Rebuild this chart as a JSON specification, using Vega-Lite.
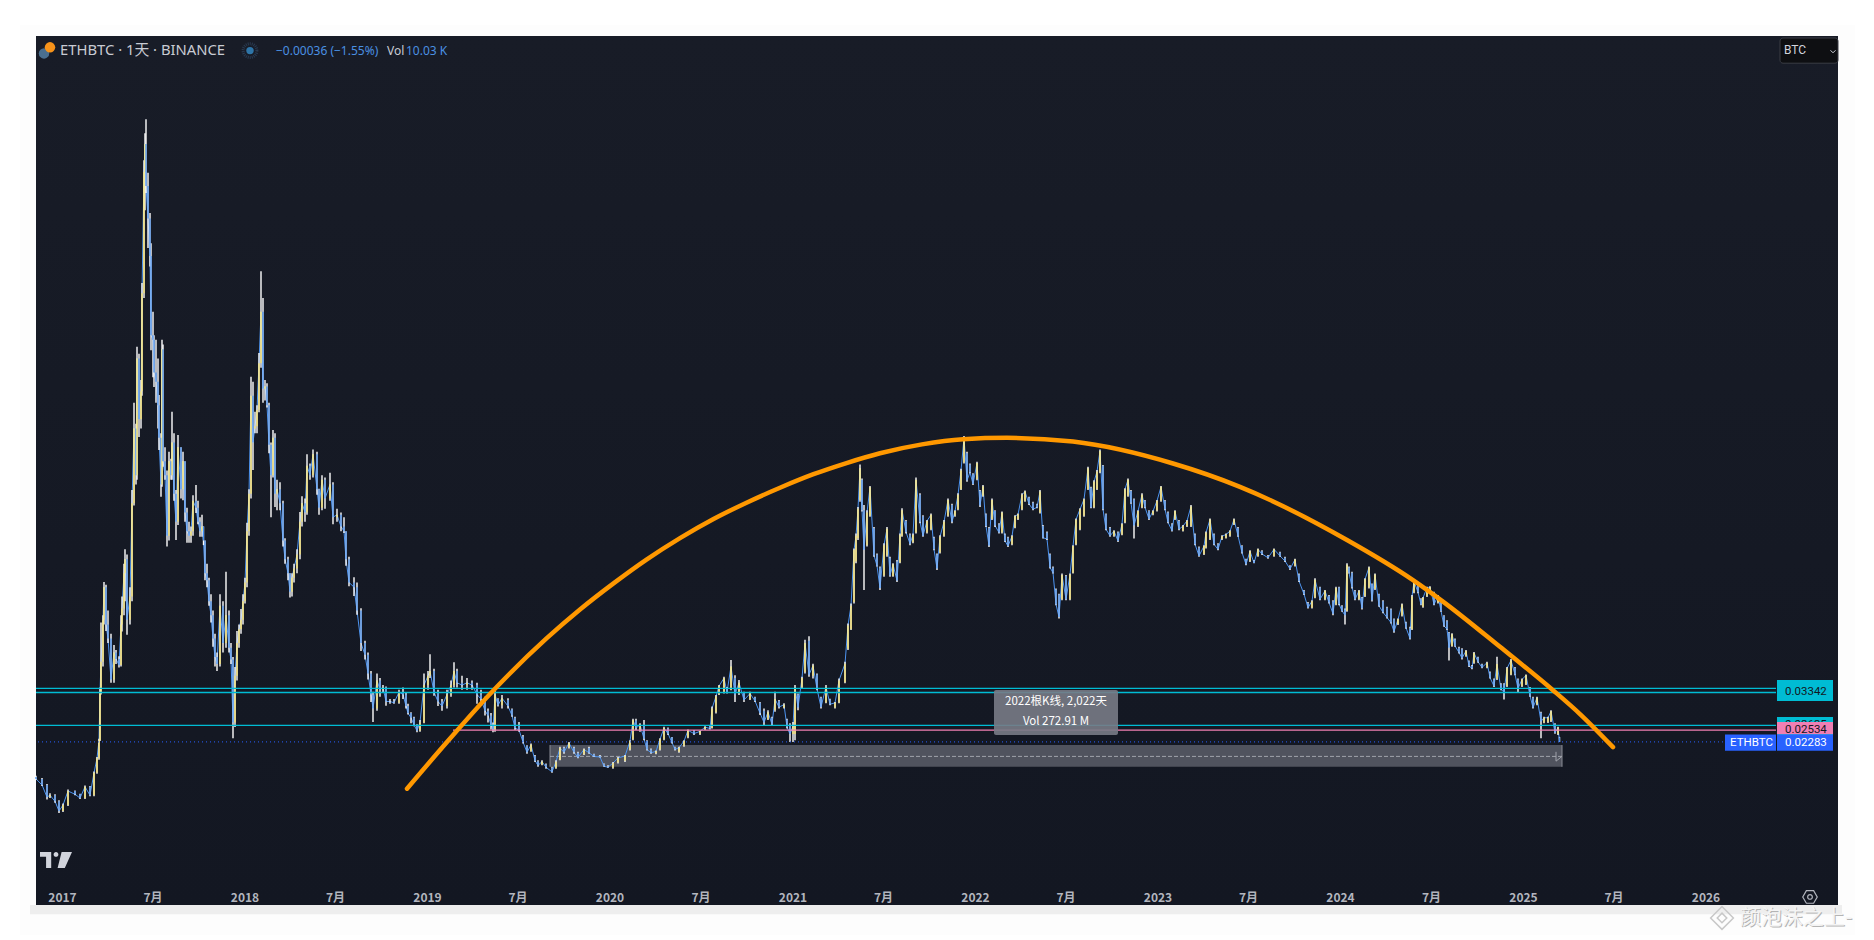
{
"$schema":"https://vega.github.io/schema/vega-lite/v6.json",
"description":"ETHBTC daily chart with rounded top arc",
"width":1802,"height":869,"autosize":{"type":"none"},
"padding":{"left":36,"top":36,"right":36,"bottom":35},
"background":"#ffffff",
"view":{"fill":{"gradient":"linear","x1":0,"y1":0,"x2":0,"y2":1,"stops":[{"offset":0,"color":"#181c27"},{"offset":1,"color":"#131722"}]},"stroke":null},
"datasets":{
"bands":[{"d":-84,"d2":-52,"v":0.1765,"v2":-0.0186},{"d":3552,"d2":3586,"v":0.1765,"v2":-0.0186},{"d":-52,"d2":3552,"v":0.1765,"v2":0.17413},{"d":-52,"d2":3552,"v":-0.01213,"v2":-0.0186}],
"edge":[{"d":-64,"d2":3560,"v":-0.01213,"v2":-0.0141}],
"cyan":[{"d":-52,"d2":3428,"v":0.0343},{"d":-52,"d2":3428,"v":0.03342},{"d":-52,"d2":3428,"v":0.02636}],
"pink":[{"d":782,"d2":3428,"v":0.02534}],
"last":[{"d":-48,"d2":3326,"v":0.02283}],
"range":[{"d":976,"d2":3000,"v":0.02215,"v2":0.01749}],
"rangeEnds":[{"d":976,"v":0.02215,"v2":0.01749},{"d":3000,"v":0.02215,"v2":0.01749}],
"rangeMid":[{"d":976,"d2":3000,"v":0.01972}],
"rangeArrow":[{"d":2988,"v":0.0207},{"d":3000,"v":0.01972},{"d":2988,"v":0.0187}],
"arc":[{"d":690,"v":0.0128},{"d":770,"v":0.0228},{"d":849,"v":0.0323},{"d":969,"v":0.045},{"d":1036,"v":0.0512},{"d":1103,"v":0.0568},{"d":1169,"v":0.0619},{"d":1236,"v":0.0665},{"d":1303,"v":0.0706},{"d":1369,"v":0.0741},{"d":1436,"v":0.0773},{"d":1503,"v":0.0802},{"d":1569,"v":0.0826},{"d":1636,"v":0.0847},{"d":1720,"v":0.0866},{"d":1802,"v":0.0877},{"d":1890,"v":0.088},{"d":2022,"v":0.0872},{"d":2222,"v":0.0825},{"d":2356,"v":0.0775},{"d":2570,"v":0.0661},{"d":2702,"v":0.0575},{"d":2762,"v":0.0529},{"d":2876,"v":0.0432},{"d":2982,"v":0.0339},{"d":3036,"v":0.0288},{"d":3102,"v":0.0217}],
"boxCyan":[{"d":3430,"d2":3542,"v":0.03608,"v2":0.03157},{"d":3430,"d2":3542,"v":0.02815,"v2":0.024}],
"boxPink":[{"d":3430,"d2":3542,"v":0.0271,"v2":0.02445}],
"boxBlue":[{"d":3326,"d2":3428,"v":0.02444,"v2":0.02092},{"d":3430,"d2":3542,"v":0.02444,"v2":0.02092}],
"darkTags":[{"d":3446,"v":0.03342,"label":"0.03342"},{"d":3446,"v":0.02636,"label":"0.02635"}],
"pinkTag":[{"d":3446,"v":0.02534,"label":"0.02534"}],
"blueTags":[{"d":3336,"v":0.02268,"label":"ETHBTC"},{"d":3446,"v":0.02268,"label":"0.02283"}],
"note":[{"d":1864,"d2":2112,"v":0.03393,"v2":0.02429}],
"noteText":[{"d":1988,"v":0.03143,"label":"2022根K线, 2,022天"},{"d":1988,"v":0.02714,"label":"Vol 272.91 M"}],
"head":[{"d":-4,"v":0.171,"label":"ETHBTC · 1天 · BINANCE"}],
"headBlue":[{"d":428,"v":0.171,"label":"−0.00036 (−1.55%)"},{"d":688,"v":0.171,"label":"10.03 K"}],
"headVol":[{"d":650,"v":0.171,"label":"Vol"}],
"coinBtc":[{"d":-24,"v":0.1717}],
"coinEth":[{"d":-36,"v":0.1704}],
"status":[{"d":376,"v":0.171}],
"tvLogo":[{"d":-12,"v":-0.0025}],
"btcBox":[{"d":3436,"d2":3552,"v":0.1737,"v2":0.1683}],
"btcText":[{"d":3444,"v":0.1711,"label":"BTC"}],
"chevron":[{"d":3542,"v":0.1708}],
"gear":[{"d":3496,"v":-0.0104}],
"mark":[{"d":3320,"v":-0.0149}],
"markText":[{"d":3356,"v":-0.0149,"label":"颜泡沫之上-"}],
"bars":[
{"d":-52,"o":0.0153,"h":0.0156,"l":0.0147,"c":0.0149},{"d":-40,"o":0.0149,"h":0.0151,"l":0.0134,"c":0.0136},{"d":-30,"o":0.0136,"h":0.0138,"l":0.0105,"c":0.011},{"d":-24,"o":0.011,"h":0.0118,"l":0.0108,"c":0.0114},{"d":-14,"o":0.0114,"h":0.0116,"l":0.0098,"c":0.0101},{"d":-6,"o":0.0101,"h":0.0103,"l":0.0076,"c":0.008},{"d":2,"o":0.008,"h":0.0096,"l":0.0078,"c":0.0093},{"d":12,"o":0.0093,"h":0.0126,"l":0.0091,"c":0.0123},{"d":26,"o":0.0123,"h":0.0124,"l":0.0114,"c":0.0116},{"d":36,"o":0.0116,"h":0.0117,"l":0.0106,"c":0.0108},{"d":46,"o":0.0108,"h":0.0135,"l":0.0106,"c":0.0132},{"d":56,"o":0.0132,"h":0.0134,"l":0.0112,"c":0.0114},{"d":64,"o":0.0114,"h":0.0165,"l":0.0112,"c":0.0162},{"d":70,"o":0.0162,"h":0.0196,"l":0.016,"c":0.0193},{"d":74,"o":0.0193,"h":0.0235,"l":0.019,"c":0.0232},{"d":76,"o":0.0232,"h":0.0345,"l":0.023,"c":0.0336},{"d":78,"o":0.0336,"h":0.0484,"l":0.033,"c":0.04},{"d":82,"o":0.04,"h":0.05,"l":0.039,"c":0.049},{"d":84,"o":0.049,"h":0.0571,"l":0.048,"c":0.056},{"d":88,"o":0.056,"h":0.0565,"l":0.0466,"c":0.048},{"d":92,"o":0.048,"h":0.051,"l":0.044,"c":0.045},{"d":98,"o":0.045,"h":0.046,"l":0.0355,"c":0.0362},{"d":104,"o":0.0362,"h":0.0436,"l":0.0355,"c":0.042},{"d":108,"o":0.042,"h":0.0425,"l":0.0395,"c":0.0406},{"d":114,"o":0.0406,"h":0.0412,"l":0.0388,"c":0.0393},{"d":118,"o":0.0393,"h":0.05,"l":0.039,"c":0.048},{"d":120,"o":0.048,"h":0.054,"l":0.0465,"c":0.0514},{"d":124,"o":0.0514,"h":0.061,"l":0.05,"c":0.059},{"d":126,"o":0.059,"h":0.0641,"l":0.053,"c":0.062},{"d":130,"o":0.062,"h":0.063,"l":0.0458,"c":0.049},{"d":136,"o":0.049,"h":0.056,"l":0.048,"c":0.054},{"d":140,"o":0.054,"h":0.0768,"l":0.053,"c":0.074},{"d":144,"o":0.074,"h":0.0955,"l":0.0735,"c":0.09},{"d":148,"o":0.09,"h":0.091,"l":0.078,"c":0.08},{"d":150,"o":0.08,"h":0.1075,"l":0.079,"c":0.105},{"d":154,"o":0.105,"h":0.106,"l":0.0882,"c":0.092},{"d":158,"o":0.092,"h":0.1004,"l":0.09,"c":0.098},{"d":160,"o":0.098,"h":0.1212,"l":0.097,"c":0.119},{"d":164,"o":0.119,"h":0.1475,"l":0.118,"c":0.145},{"d":166,"o":0.145,"h":0.1533,"l":0.1368,"c":0.151},{"d":168,"o":0.151,"h":0.1563,"l":0.1405,"c":0.142},{"d":172,"o":0.142,"h":0.1448,"l":0.1287,"c":0.135},{"d":176,"o":0.135,"h":0.1362,"l":0.1247,"c":0.127},{"d":178,"o":0.127,"h":0.1297,"l":0.1068,"c":0.11},{"d":182,"o":0.11,"h":0.115,"l":0.101,"c":0.109},{"d":184,"o":0.109,"h":0.11,"l":0.0989,"c":0.102},{"d":188,"o":0.102,"h":0.109,"l":0.0955,"c":0.1},{"d":192,"o":0.1,"h":0.105,"l":0.09,"c":0.095},{"d":194,"o":0.095,"h":0.0972,"l":0.0854,"c":0.088},{"d":198,"o":0.088,"h":0.089,"l":0.0754,"c":0.078},{"d":200,"o":0.078,"h":0.109,"l":0.0775,"c":0.107},{"d":202,"o":0.107,"h":0.108,"l":0.0818,"c":0.083},{"d":206,"o":0.083,"h":0.086,"l":0.079,"c":0.08},{"d":210,"o":0.08,"h":0.081,"l":0.0647,"c":0.067},{"d":214,"o":0.067,"h":0.085,"l":0.066,"c":0.083},{"d":218,"o":0.083,"h":0.0835,"l":0.079,"c":0.08},{"d":220,"o":0.08,"h":0.0936,"l":0.079,"c":0.087},{"d":224,"o":0.087,"h":0.089,"l":0.0745,"c":0.076},{"d":228,"o":0.076,"h":0.0768,"l":0.0661,"c":0.07},{"d":232,"o":0.07,"h":0.0886,"l":0.0693,"c":0.086},{"d":238,"o":0.086,"h":0.086,"l":0.075,"c":0.077},{"d":242,"o":0.077,"h":0.085,"l":0.0746,"c":0.083},{"d":246,"o":0.083,"h":0.083,"l":0.07,"c":0.072},{"d":250,"o":0.072,"h":0.073,"l":0.0655,"c":0.068},{"d":254,"o":0.068,"h":0.07,"l":0.0655,"c":0.067},{"d":258,"o":0.067,"h":0.069,"l":0.0655,"c":0.068},{"d":262,"o":0.068,"h":0.0757,"l":0.067,"c":0.0745},{"d":268,"o":0.0745,"h":0.0779,"l":0.0719,"c":0.073},{"d":272,"o":0.073,"h":0.0745,"l":0.0695,"c":0.07},{"d":276,"o":0.07,"h":0.071,"l":0.0668,"c":0.068},{"d":280,"o":0.068,"h":0.0715,"l":0.0668,"c":0.069},{"d":283,"o":0.069,"h":0.069,"l":0.065,"c":0.066},{"d":286,"o":0.066,"h":0.066,"l":0.0575,"c":0.059},{"d":290,"o":0.059,"h":0.061,"l":0.056,"c":0.0575},{"d":294,"o":0.0575,"h":0.058,"l":0.052,"c":0.053},{"d":298,"o":0.053,"h":0.0545,"l":0.0484,"c":0.05},{"d":302,"o":0.05,"h":0.051,"l":0.0432,"c":0.045},{"d":306,"o":0.045,"h":0.046,"l":0.039,"c":0.041},{"d":310,"o":0.041,"h":0.042,"l":0.038,"c":0.0395},{"d":316,"o":0.0395,"h":0.0545,"l":0.039,"c":0.052},{"d":322,"o":0.052,"h":0.053,"l":0.042,"c":0.044},{"d":328,"o":0.044,"h":0.0593,"l":0.043,"c":0.05},{"d":334,"o":0.05,"h":0.051,"l":0.042,"c":0.043},{"d":338,"o":0.043,"h":0.044,"l":0.0395,"c":0.0405},{"d":342,"o":0.0405,"h":0.041,"l":0.0236,"c":0.027},{"d":346,"o":0.027,"h":0.0389,"l":0.026,"c":0.037},{"d":350,"o":0.037,"h":0.0466,"l":0.036,"c":0.044},{"d":354,"o":0.044,"h":0.048,"l":0.043,"c":0.047},{"d":358,"o":0.047,"h":0.0513,"l":0.046,"c":0.049},{"d":362,"o":0.049,"h":0.0545,"l":0.048,"c":0.053},{"d":366,"o":0.053,"h":0.058,"l":0.0525,"c":0.057},{"d":370,"o":0.057,"h":0.0698,"l":0.056,"c":0.068},{"d":374,"o":0.068,"h":0.077,"l":0.067,"c":0.076},{"d":378,"o":0.076,"h":0.1011,"l":0.075,"c":0.097},{"d":382,"o":0.097,"h":0.1,"l":0.0811,"c":0.087},{"d":386,"o":0.09,"h":0.0936,"l":0.089,"c":0.0905},{"d":390,"o":0.0905,"h":0.095,"l":0.089,"c":0.094},{"d":394,"o":0.094,"h":0.1062,"l":0.0935,"c":0.104},{"d":398,"o":0.104,"h":0.1237,"l":0.103,"c":0.115},{"d":402,"o":0.115,"h":0.118,"l":0.0955,"c":0.0985},{"d":406,"o":0.0985,"h":0.1004,"l":0.096,"c":0.099},{"d":410,"o":0.099,"h":0.0997,"l":0.0945,"c":0.095},{"d":414,"o":0.095,"h":0.0955,"l":0.0847,"c":0.0865},{"d":418,"o":0.0865,"h":0.087,"l":0.071,"c":0.08},{"d":422,"o":0.08,"h":0.0897,"l":0.0795,"c":0.088},{"d":426,"o":0.088,"h":0.089,"l":0.0732,"c":0.076},{"d":430,"o":0.076,"h":0.079,"l":0.0725,"c":0.077},{"d":436,"o":0.077,"h":0.0785,"l":0.0725,"c":0.074},{"d":442,"o":0.074,"h":0.0745,"l":0.0647,"c":0.066},{"d":446,"o":0.066,"h":0.0665,"l":0.061,"c":0.062},{"d":452,"o":0.062,"h":0.0625,"l":0.0575,"c":0.059},{"d":456,"o":0.059,"h":0.059,"l":0.0538,"c":0.055},{"d":460,"o":0.055,"h":0.059,"l":0.054,"c":0.058},{"d":464,"o":0.058,"h":0.061,"l":0.057,"c":0.06},{"d":470,"o":0.06,"h":0.0641,"l":0.059,"c":0.063},{"d":476,"o":0.063,"h":0.0721,"l":0.062,"c":0.07},{"d":480,"o":0.07,"h":0.0755,"l":0.069,"c":0.074},{"d":486,"o":0.074,"h":0.075,"l":0.07,"c":0.072},{"d":490,"o":0.072,"h":0.0845,"l":0.0715,"c":0.082},{"d":496,"o":0.082,"h":0.0825,"l":0.079,"c":0.08},{"d":502,"o":0.08,"h":0.0855,"l":0.0795,"c":0.0845},{"d":510,"o":0.0845,"h":0.085,"l":0.0758,"c":0.077},{"d":514,"o":0.077,"h":0.0771,"l":0.0715,"c":0.073},{"d":520,"o":0.073,"h":0.08,"l":0.0725,"c":0.079},{"d":526,"o":0.079,"h":0.0795,"l":0.0728,"c":0.075},{"d":536,"o":0.075,"h":0.0805,"l":0.0745,"c":0.078},{"d":542,"o":0.078,"h":0.0785,"l":0.0695,"c":0.071},{"d":550,"o":0.071,"h":0.0728,"l":0.07,"c":0.0715},{"d":558,"o":0.0715,"h":0.072,"l":0.068,"c":0.069},{"d":564,"o":0.069,"h":0.071,"l":0.0676,"c":0.068},{"d":568,"o":0.068,"h":0.068,"l":0.0606,"c":0.062},{"d":574,"o":0.062,"h":0.0625,"l":0.0562,"c":0.057},{"d":584,"o":0.057,"h":0.0581,"l":0.0541,"c":0.056},{"d":590,"o":0.056,"h":0.057,"l":0.0501,"c":0.051},{"d":598,"o":0.051,"h":0.0515,"l":0.0423,"c":0.044},{"d":606,"o":0.044,"h":0.0445,"l":0.0405,"c":0.0415},{"d":612,"o":0.0415,"h":0.042,"l":0.0362,"c":0.0375},{"d":618,"o":0.0375,"h":0.038,"l":0.0314,"c":0.033},{"d":622,"o":0.033,"h":0.0336,"l":0.0271,"c":0.03},{"d":630,"o":0.03,"h":0.0375,"l":0.0295,"c":0.036},{"d":636,"o":0.036,"h":0.0365,"l":0.0325,"c":0.034},{"d":642,"o":0.034,"h":0.035,"l":0.0335,"c":0.0345},{"d":648,"o":0.0345,"h":0.0347,"l":0.0306,"c":0.0315},{"d":656,"o":0.0315,"h":0.032,"l":0.031,"c":0.0315},{"d":664,"o":0.0315,"h":0.032,"l":0.031,"c":0.0312},{"d":674,"o":0.0312,"h":0.034,"l":0.031,"c":0.0335},{"d":682,"o":0.0335,"h":0.0345,"l":0.032,"c":0.033},{"d":688,"o":0.033,"h":0.0335,"l":0.03,"c":0.0305},{"d":692,"o":0.0305,"h":0.031,"l":0.0287,"c":0.029},{"d":698,"o":0.029,"h":0.0292,"l":0.0268,"c":0.028},{"d":704,"o":0.028,"h":0.0282,"l":0.0262,"c":0.0265},{"d":710,"o":0.0265,"h":0.0266,"l":0.0249,"c":0.0252},{"d":716,"o":0.0252,"h":0.0275,"l":0.025,"c":0.027},{"d":724,"o":0.027,"h":0.0375,"l":0.0268,"c":0.035},{"d":732,"o":0.035,"h":0.038,"l":0.034,"c":0.037},{"d":736,"o":0.037,"h":0.0416,"l":0.0365,"c":0.038},{"d":744,"o":0.038,"h":0.0385,"l":0.0327,"c":0.0335},{"d":752,"o":0.0335,"h":0.034,"l":0.0305,"c":0.0315},{"d":760,"o":0.0315,"h":0.032,"l":0.0295,"c":0.0305},{"d":770,"o":0.0305,"h":0.034,"l":0.03,"c":0.033},{"d":778,"o":0.033,"h":0.036,"l":0.0325,"c":0.035},{"d":784,"o":0.035,"h":0.0399,"l":0.0345,"c":0.038},{"d":790,"o":0.038,"h":0.0385,"l":0.0345,"c":0.0355},{"d":800,"o":0.0355,"h":0.037,"l":0.034,"c":0.035},{"d":810,"o":0.035,"h":0.0365,"l":0.034,"c":0.0355},{"d":820,"o":0.0355,"h":0.036,"l":0.034,"c":0.035},{"d":830,"o":0.035,"h":0.0355,"l":0.031,"c":0.033},{"d":838,"o":0.033,"h":0.034,"l":0.0305,"c":0.032},{"d":846,"o":0.032,"h":0.0325,"l":0.0285,"c":0.0295},{"d":852,"o":0.0295,"h":0.03,"l":0.027,"c":0.0285},{"d":858,"o":0.0285,"h":0.029,"l":0.0255,"c":0.0265},{"d":862,"o":0.0265,"h":0.027,"l":0.0249,"c":0.0255},{"d":866,"o":0.0255,"h":0.0346,"l":0.025,"c":0.033},
{"d":872,"o":0.032,"h":0.0322,"l":0.0304,"c":0.0307},{"d":880,"o":0.0307,"h":0.0329,"l":0.03,"c":0.0322},{"d":892,"o":0.0318,"h":0.0322,"l":0.03,"c":0.0305},{"d":900,"o":0.0298,"h":0.03,"l":0.0282,"c":0.0285},{"d":906,"o":0.028,"h":0.0282,"l":0.0254,"c":0.0258},{"d":914,"o":0.0262,"h":0.0271,"l":0.025,"c":0.0254},{"d":922,"o":0.024,"h":0.0243,"l":0.0225,"c":0.0228},{"d":930,"o":0.022,"h":0.0221,"l":0.0203,"c":0.0206},{"d":938,"o":0.0208,"h":0.0225,"l":0.0207,"c":0.0222},{"d":946,"o":0.0198,"h":0.02,"l":0.0185,"c":0.0188},{"d":952,"o":0.0187,"h":0.0189,"l":0.0175,"c":0.0178},{"d":960,"o":0.018,"h":0.0189,"l":0.0178,"c":0.0186},{"d":968,"o":0.018,"h":0.0182,"l":0.0171,"c":0.0174},{"d":980,"o":0.0173,"h":0.0175,"l":0.0162,"c":0.0164},{"d":988,"o":0.0172,"h":0.0189,"l":0.0171,"c":0.0186},{"d":996,"o":0.019,"h":0.0218,"l":0.0189,"c":0.0215},{"d":1004,"o":0.0216,"h":0.0218,"l":0.0203,"c":0.0206},{"d":1014,"o":0.0216,"h":0.0228,"l":0.0214,"c":0.0226},{"d":1024,"o":0.0216,"h":0.0218,"l":0.0203,"c":0.0206},{"d":1032,"o":0.0205,"h":0.0207,"l":0.0193,"c":0.0195},{"d":1044,"o":0.0202,"h":0.0214,"l":0.02,"c":0.0212},{"d":1054,"o":0.0215,"h":0.0218,"l":0.0203,"c":0.0205},{"d":1064,"o":0.0202,"h":0.0203,"l":0.0196,"c":0.0197},{"d":1076,"o":0.0198,"h":0.02,"l":0.0195,"c":0.0196},{"d":1084,"o":0.0181,"h":0.0182,"l":0.0175,"c":0.0176},{"d":1092,"o":0.0176,"h":0.0178,"l":0.0173,"c":0.0174},{"d":1102,"o":0.0173,"h":0.0185,"l":0.0171,"c":0.0183},{"d":1112,"o":0.0184,"h":0.0196,"l":0.0182,"c":0.0194},{"d":1126,"o":0.0188,"h":0.02,"l":0.0185,"c":0.0198},{"d":1136,"o":0.0212,"h":0.0232,"l":0.021,"c":0.023},{"d":1142,"o":0.0234,"h":0.0278,"l":0.0232,"c":0.0275},{"d":1148,"o":0.0274,"h":0.0278,"l":0.0254,"c":0.0258},{"d":1156,"o":0.0254,"h":0.0268,"l":0.025,"c":0.0265},{"d":1164,"o":0.0265,"h":0.0275,"l":0.0232,"c":0.0235},{"d":1170,"o":0.023,"h":0.0232,"l":0.021,"c":0.0212},{"d":1178,"o":0.0212,"h":0.0214,"l":0.0203,"c":0.0205},{"d":1188,"o":0.0204,"h":0.021,"l":0.0202,"c":0.0208},{"d":1196,"o":0.0212,"h":0.0236,"l":0.021,"c":0.0234},{"d":1204,"o":0.0234,"h":0.0261,"l":0.0232,"c":0.0258},{"d":1212,"o":0.0257,"h":0.0259,"l":0.0243,"c":0.0246},{"d":1220,"o":0.0238,"h":0.0239,"l":0.0225,"c":0.0227},{"d":1226,"o":0.0217,"h":0.0218,"l":0.021,"c":0.0212},{"d":1234,"o":0.0207,"h":0.0218,"l":0.0205,"c":0.0216},{"d":1244,"o":0.022,"h":0.0232,"l":0.0218,"c":0.023},{"d":1252,"o":0.0238,"h":0.0255,"l":0.0236,"c":0.0253},{"d":1264,"o":0.0252,"h":0.0254,"l":0.0243,"c":0.0246},{"d":1276,"o":0.0245,"h":0.0252,"l":0.0243,"c":0.0251},{"d":1286,"o":0.0256,"h":0.0262,"l":0.0254,"c":0.026},{"d":1296,"o":0.0262,"h":0.0264,"l":0.0255,"c":0.0257},{"d":1300,"o":0.0258,"h":0.0304,"l":0.0257,"c":0.03},{"d":1308,"o":0.0292,"h":0.0329,"l":0.0289,"c":0.0326},{"d":1314,"o":0.033,"h":0.035,"l":0.0329,"c":0.0348},{"d":1324,"o":0.0335,"h":0.0368,"l":0.0332,"c":0.0365},{"d":1330,"o":0.0344,"h":0.0346,"l":0.0332,"c":0.0335},{"d":1338,"o":0.034,"h":0.0404,"l":0.0339,"c":0.039},{"d":1346,"o":0.0365,"h":0.0371,"l":0.0314,"c":0.033},{"d":1354,"o":0.0332,"h":0.0361,"l":0.0329,"c":0.0355},{"d":1364,"o":0.0334,"h":0.0336,"l":0.0314,"c":0.0318},{"d":1376,"o":0.032,"h":0.0336,"l":0.0318,"c":0.0332},{"d":1386,"o":0.0324,"h":0.0325,"l":0.0314,"c":0.0316},{"d":1396,"o":0.0312,"h":0.0314,"l":0.0286,"c":0.029},{"d":1404,"o":0.0295,"h":0.03,"l":0.0264,"c":0.027},{"d":1412,"o":0.0277,"h":0.0296,"l":0.0275,"c":0.0292},{"d":1420,"o":0.028,"h":0.0282,"l":0.0263,"c":0.0266},{"d":1426,"o":0.0296,"h":0.0336,"l":0.0293,"c":0.032},{"d":1434,"o":0.0316,"h":0.0318,"l":0.03,"c":0.0303},{"d":1444,"o":0.0302,"h":0.0311,"l":0.03,"c":0.0308},{"d":1450,"o":0.0276,"h":0.0278,"l":0.0257,"c":0.026},{"d":1456,"o":0.0265,"h":0.0268,"l":0.0228,"c":0.0245},{"d":1462,"o":0.0245,"h":0.0271,"l":0.0228,"c":0.0262},{"d":1466,"o":0.0245,"h":0.035,"l":0.0232,"c":0.0345},{"d":1472,"o":0.033,"h":0.0332,"l":0.0296,"c":0.0302},{"d":1480,"o":0.0345,"h":0.0368,"l":0.0343,"c":0.0365},{"d":1486,"o":0.0378,"h":0.0447,"l":0.0375,"c":0.044},{"d":1494,"o":0.0445,"h":0.0455,"l":0.0368,"c":0.0372},{"d":1502,"o":0.037,"h":0.0396,"l":0.0364,"c":0.0392},{"d":1510,"o":0.0373,"h":0.0375,"l":0.0339,"c":0.0342},{"d":1518,"o":0.0323,"h":0.0325,"l":0.03,"c":0.0303},{"d":1528,"o":0.0313,"h":0.035,"l":0.0311,"c":0.0346},{"d":1536,"o":0.0319,"h":0.0321,"l":0.0307,"c":0.0309},{"d":1546,"o":0.0302,"h":0.0314,"l":0.03,"c":0.0312},{"d":1554,"o":0.0313,"h":0.0364,"l":0.0311,"c":0.036},{"d":1566,"o":0.0356,"h":0.04,"l":0.0354,"c":0.0396},
{"d":1572,"o":0.0428,"h":0.0482,"l":0.0425,"c":0.0478},{"d":1578,"o":0.047,"h":0.0525,"l":0.0468,"c":0.052},{"d":1584,"o":0.0528,"h":0.0643,"l":0.0525,"c":0.064},{"d":1588,"o":0.0615,"h":0.0675,"l":0.0611,"c":0.067},{"d":1592,"o":0.0665,"h":0.0732,"l":0.0661,"c":0.0728},{"d":1596,"o":0.0747,"h":0.0823,"l":0.0743,"c":0.0815},{"d":1600,"o":0.079,"h":0.0793,"l":0.0722,"c":0.0725},{"d":1604,"o":0.0725,"h":0.0736,"l":0.0554,"c":0.064},{"d":1610,"o":0.065,"h":0.0725,"l":0.0647,"c":0.072},{"d":1616,"o":0.0713,"h":0.0777,"l":0.0711,"c":0.0774},{"d":1624,"o":0.0686,"h":0.0689,"l":0.0625,"c":0.0628},{"d":1630,"o":0.063,"h":0.0632,"l":0.0604,"c":0.0606},{"d":1636,"o":0.0602,"h":0.0604,"l":0.0554,"c":0.0558},{"d":1644,"o":0.0585,"h":0.0654,"l":0.0582,"c":0.065},{"d":1650,"o":0.0628,"h":0.0689,"l":0.0625,"c":0.0685},{"d":1656,"o":0.0622,"h":0.0625,"l":0.0582,"c":0.0585},{"d":1662,"o":0.0584,"h":0.0611,"l":0.0582,"c":0.0609},{"d":1670,"o":0.0615,"h":0.0618,"l":0.0571,"c":0.0574},{"d":1676,"o":0.0613,"h":0.0675,"l":0.0611,"c":0.0672},{"d":1680,"o":0.067,"h":0.0729,"l":0.0668,"c":0.0725},{"d":1688,"o":0.0702,"h":0.0704,"l":0.0675,"c":0.0678},{"d":1696,"o":0.0673,"h":0.0675,"l":0.065,"c":0.0653},{"d":1702,"o":0.0656,"h":0.0675,"l":0.0654,"c":0.0672},{"d":1708,"o":0.0677,"h":0.0795,"l":0.0675,"c":0.079},{"d":1716,"o":0.0758,"h":0.0761,"l":0.0697,"c":0.07},{"d":1722,"o":0.0712,"h":0.0714,"l":0.0668,"c":0.067},{"d":1730,"o":0.0677,"h":0.0704,"l":0.0675,"c":0.0702},{"d":1738,"o":0.0684,"h":0.0718,"l":0.0682,"c":0.0715},{"d":1744,"o":0.0666,"h":0.0668,"l":0.0639,"c":0.0641},{"d":1750,"o":0.063,"h":0.0632,"l":0.0597,"c":0.06},{"d":1756,"o":0.0634,"h":0.0671,"l":0.0632,"c":0.0668},{"d":1764,"o":0.067,"h":0.0704,"l":0.0668,"c":0.07},{"d":1772,"o":0.0713,"h":0.075,"l":0.0711,"c":0.0747},{"d":1780,"o":0.0736,"h":0.0739,"l":0.0697,"c":0.07},{"d":1786,"o":0.0713,"h":0.0725,"l":0.0711,"c":0.0723},{"d":1792,"o":0.0727,"h":0.0761,"l":0.0725,"c":0.0758},{"d":1798,"o":0.077,"h":0.0814,"l":0.0768,"c":0.081},{"d":1804,"o":0.0827,"h":0.0884,"l":0.0825,"c":0.088},{"d":1810,"o":0.0847,"h":0.085,"l":0.0786,"c":0.0789},{"d":1816,"o":0.0823,"h":0.0825,"l":0.0804,"c":0.0806},{"d":1822,"o":0.0802,"h":0.0804,"l":0.0779,"c":0.0781},{"d":1830,"o":0.0791,"h":0.0829,"l":0.0789,"c":0.0826},{"d":1836,"o":0.0766,"h":0.0768,"l":0.0732,"c":0.0735},{"d":1842,"o":0.0756,"h":0.0779,"l":0.0754,"c":0.0776},{"d":1848,"o":0.0716,"h":0.0718,"l":0.0689,"c":0.0691},{"d":1854,"o":0.0687,"h":0.0689,"l":0.0646,"c":0.0649},{"d":1860,"o":0.0706,"h":0.075,"l":0.0704,"c":0.0747},{"d":1866,"o":0.0723,"h":0.0725,"l":0.0689,"c":0.0692},{"d":1874,"o":0.0695,"h":0.0697,"l":0.0675,"c":0.0677},{"d":1880,"o":0.0677,"h":0.0722,"l":0.0675,"c":0.072},{"d":1886,"o":0.0673,"h":0.0675,"l":0.0657,"c":0.0659},{"d":1892,"o":0.0666,"h":0.0668,"l":0.0646,"c":0.0648},{"d":1900,"o":0.0652,"h":0.0671,"l":0.065,"c":0.0669},{"d":1906,"o":0.0688,"h":0.0714,"l":0.0686,"c":0.0712},{"d":1912,"o":0.0706,"h":0.0718,"l":0.0704,"c":0.0716},{"d":1920,"o":0.0727,"h":0.0761,"l":0.0725,"c":0.0758},{"d":1926,"o":0.0745,"h":0.0767,"l":0.0743,"c":0.0765},{"d":1934,"o":0.0752,"h":0.0754,"l":0.0736,"c":0.0738},{"d":1942,"o":0.0741,"h":0.0743,"l":0.0725,"c":0.0727},{"d":1950,"o":0.0737,"h":0.0739,"l":0.0729,"c":0.0731},{"d":1956,"o":0.072,"h":0.0768,"l":0.0718,"c":0.0765},{"d":1962,"o":0.0691,"h":0.0693,"l":0.0664,"c":0.0666},{"d":1970,"o":0.0677,"h":0.0679,"l":0.0661,"c":0.0663},{"d":1976,"o":0.063,"h":0.0632,"l":0.06,"c":0.0602},{"d":1982,"o":0.0602,"h":0.0604,"l":0.0589,"c":0.0591},{"d":1988,"o":0.0555,"h":0.0557,"l":0.0521,"c":0.0523},{"d":1994,"o":0.0544,"h":0.0546,"l":0.0493,"c":0.0496},{"d":2000,"o":0.0534,"h":0.0589,"l":0.0532,"c":0.0586},{"d":2008,"o":0.0584,"h":0.0586,"l":0.0532,"c":0.0534},{"d":2016,"o":0.0534,"h":0.0589,"l":0.0532,"c":0.0587},{"d":2022,"o":0.0591,"h":0.065,"l":0.0589,"c":0.0648},{"d":2028,"o":0.0652,"h":0.0707,"l":0.065,"c":0.0705},{"d":2036,"o":0.0684,"h":0.0729,"l":0.0682,"c":0.0727},{"d":2044,"o":0.0713,"h":0.075,"l":0.0711,"c":0.0748},{"d":2052,"o":0.077,"h":0.0818,"l":0.0768,"c":0.0815},{"d":2058,"o":0.0773,"h":0.0775,"l":0.0729,"c":0.0731},{"d":2064,"o":0.0731,"h":0.0789,"l":0.0729,"c":0.0786},{"d":2070,"o":0.077,"h":0.0811,"l":0.0768,"c":0.0808},{"d":2076,"o":0.0806,"h":0.0855,"l":0.0804,"c":0.0852},{"d":2082,"o":0.082,"h":0.0822,"l":0.0725,"c":0.0727},{"d":2088,"o":0.0716,"h":0.0718,"l":0.0682,"c":0.0684},{"d":2096,"o":0.0687,"h":0.0689,"l":0.0668,"c":0.067},{"d":2104,"o":0.067,"h":0.0682,"l":0.0668,"c":0.068},{"d":2112,"o":0.0677,"h":0.0679,"l":0.0657,"c":0.0659},{"d":2120,"o":0.0673,"h":0.0697,"l":0.0671,"c":0.0695},{"d":2126,"o":0.0699,"h":0.0772,"l":0.0697,"c":0.077},{"d":2132,"o":0.0756,"h":0.0793,"l":0.0754,"c":0.079},{"d":2138,"o":0.0766,"h":0.0768,"l":0.0739,"c":0.0741},{"d":2144,"o":0.0748,"h":0.075,"l":0.0664,"c":0.0692},{"d":2152,"o":0.0691,"h":0.0725,"l":0.0689,"c":0.0723},{"d":2160,"o":0.0731,"h":0.0761,"l":0.0729,"c":0.0758},{"d":2166,"o":0.0745,"h":0.0747,"l":0.0729,"c":0.0731},{"d":2174,"o":0.0723,"h":0.0725,"l":0.0704,"c":0.0706},{"d":2182,"o":0.0716,"h":0.0725,"l":0.0714,"c":0.0723},{"d":2190,"o":0.0724,"h":0.0747,"l":0.0722,"c":0.0745},{"d":2198,"o":0.0745,"h":0.0777,"l":0.0743,"c":0.0775},{"d":2206,"o":0.0745,"h":0.0747,"l":0.0725,"c":0.0727},{"d":2212,"o":0.072,"h":0.0722,"l":0.0697,"c":0.0699},{"d":2220,"o":0.0695,"h":0.0697,"l":0.0679,"c":0.0681},{"d":2226,"o":0.0706,"h":0.0725,"l":0.0704,"c":0.0723},{"d":2234,"o":0.0702,"h":0.0704,"l":0.0682,"c":0.0684},{"d":2242,"o":0.0681,"h":0.0693,"l":0.0679,"c":0.0691},{"d":2250,"o":0.0691,"h":0.0704,"l":0.0689,"c":0.0702},{"d":2258,"o":0.0691,"h":0.0736,"l":0.0689,"c":0.0733},{"d":2266,"o":0.0673,"h":0.0675,"l":0.065,"c":0.0652},{"d":2274,"o":0.0645,"h":0.0647,"l":0.0625,"c":0.0627},{"d":2284,"o":0.0631,"h":0.065,"l":0.0629,"c":0.0648},{"d":2288,"o":0.0645,"h":0.0679,"l":0.0643,"c":0.0677},{"d":2296,"o":0.0663,"h":0.0707,"l":0.0661,"c":0.0705},{"d":2304,"o":0.0673,"h":0.0675,"l":0.065,"c":0.0652},{"d":2312,"o":0.0652,"h":0.0654,"l":0.0639,"c":0.0641},{"d":2320,"o":0.0663,"h":0.0671,"l":0.0661,"c":0.0669},{"d":2328,"o":0.0666,"h":0.0675,"l":0.0664,"c":0.0673},{"d":2336,"o":0.067,"h":0.0682,"l":0.0668,"c":0.068},{"d":2344,"o":0.0695,"h":0.0707,"l":0.0693,"c":0.0705},{"d":2352,"o":0.0687,"h":0.0689,"l":0.0668,"c":0.067},{"d":2360,"o":0.0648,"h":0.065,"l":0.0632,"c":0.0634},{"d":2368,"o":0.0619,"h":0.0621,"l":0.0607,"c":0.0609},{"d":2376,"o":0.0616,"h":0.0639,"l":0.0614,"c":0.0637},{"d":2384,"o":0.0617,"h":0.0618,"l":0.0611,"c":0.0612},{"d":2392,"o":0.0627,"h":0.0643,"l":0.0625,"c":0.0641},{"d":2400,"o":0.0637,"h":0.0639,"l":0.0629,"c":0.0631},{"d":2412,"o":0.0627,"h":0.0629,"l":0.0621,"c":0.0623},{"d":2424,"o":0.0627,"h":0.0643,"l":0.0625,"c":0.0641},{"d":2436,"o":0.0634,"h":0.0636,"l":0.0625,"c":0.0627},{"d":2446,"o":0.0623,"h":0.0625,"l":0.0614,"c":0.0616},{"d":2456,"o":0.0605,"h":0.0607,"l":0.0597,"c":0.0599},{"d":2466,"o":0.0606,"h":0.0621,"l":0.0604,"c":0.0619},{"d":2474,"o":0.0587,"h":0.0589,"l":0.0571,"c":0.0573},{"d":2484,"o":0.0552,"h":0.0554,"l":0.0543,"c":0.0545},{"d":2492,"o":0.0526,"h":0.0528,"l":0.0514,"c":0.0516},{"d":2500,"o":0.0516,"h":0.0532,"l":0.0514,"c":0.053},{"d":2506,"o":0.0538,"h":0.0579,"l":0.0536,"c":0.0576},{"d":2516,"o":0.0559,"h":0.0561,"l":0.0532,"c":0.0534},{"d":2526,"o":0.0534,"h":0.0554,"l":0.0532,"c":0.0552},{"d":2534,"o":0.0541,"h":0.0543,"l":0.0525,"c":0.0527},{"d":2542,"o":0.053,"h":0.0532,"l":0.05,"c":0.0503},{"d":2548,"o":0.0523,"h":0.0561,"l":0.0521,"c":0.0558},
{"d":2554,"o":0.0559,"h":0.0561,"l":0.0521,"c":0.0524},{"d":2560,"o":0.0519,"h":0.0521,"l":0.0507,"c":0.0509},{"d":2566,"o":0.0512,"h":0.0514,"l":0.048,"c":0.05},{"d":2570,"o":0.0509,"h":0.0611,"l":0.0507,"c":0.0608},{"d":2574,"o":0.0602,"h":0.0604,"l":0.0589,"c":0.0591},{"d":2580,"o":0.0591,"h":0.0593,"l":0.0557,"c":0.056},{"d":2586,"o":0.0552,"h":0.0554,"l":0.0532,"c":0.0534},{"d":2594,"o":0.0534,"h":0.0554,"l":0.0532,"c":0.0552},{"d":2600,"o":0.0537,"h":0.0539,"l":0.0512,"c":0.0515},{"d":2606,"o":0.0541,"h":0.0579,"l":0.0539,"c":0.0577},{"d":2614,"o":0.0559,"h":0.0604,"l":0.0557,"c":0.0602},{"d":2620,"o":0.0566,"h":0.0568,"l":0.0529,"c":0.0532},{"d":2626,"o":0.0556,"h":0.0589,"l":0.0554,"c":0.0587},{"d":2634,"o":0.0544,"h":0.0546,"l":0.0518,"c":0.052},{"d":2642,"o":0.053,"h":0.0532,"l":0.0504,"c":0.0506},{"d":2650,"o":0.0516,"h":0.0518,"l":0.0493,"c":0.0495},{"d":2658,"o":0.0512,"h":0.0514,"l":0.0482,"c":0.0484},{"d":2664,"o":0.0491,"h":0.0493,"l":0.0462,"c":0.0465},{"d":2672,"o":0.0481,"h":0.0493,"l":0.0479,"c":0.0491},{"d":2680,"o":0.0499,"h":0.0525,"l":0.0497,"c":0.0523},{"d":2688,"o":0.0484,"h":0.0486,"l":0.0471,"c":0.0473},{"d":2696,"o":0.0473,"h":0.0475,"l":0.0448,"c":0.045},{"d":2700,"o":0.047,"h":0.0543,"l":0.0468,"c":0.054},{"d":2704,"o":0.0549,"h":0.0575,"l":0.0547,"c":0.0572},{"d":2712,"o":0.0566,"h":0.0568,"l":0.0547,"c":0.0549},{"d":2718,"o":0.0534,"h":0.0536,"l":0.0521,"c":0.0523},{"d":2722,"o":0.0518,"h":0.0539,"l":0.0516,"c":0.0537},{"d":2730,"o":0.0541,"h":0.0561,"l":0.0539,"c":0.0559},{"d":2736,"o":0.0549,"h":0.0562,"l":0.0547,"c":0.056},{"d":2744,"o":0.0548,"h":0.055,"l":0.0521,"c":0.0523},{"d":2752,"o":0.0527,"h":0.0543,"l":0.0525,"c":0.0541},{"d":2758,"o":0.053,"h":0.0532,"l":0.0507,"c":0.0509},{"d":2764,"o":0.0498,"h":0.05,"l":0.0475,"c":0.0477},{"d":2770,"o":0.0487,"h":0.0489,"l":0.0468,"c":0.047},{"d":2774,"o":0.0462,"h":0.0464,"l":0.0403,"c":0.043},{"d":2780,"o":0.0434,"h":0.0461,"l":0.0432,"c":0.0459},{"d":2786,"o":0.0448,"h":0.045,"l":0.0432,"c":0.0434},{"d":2794,"o":0.043,"h":0.0432,"l":0.0418,"c":0.042},{"d":2800,"o":0.0427,"h":0.0429,"l":0.0405,"c":0.0408},{"d":2808,"o":0.0413,"h":0.0425,"l":0.0411,"c":0.0423},{"d":2814,"o":0.0401,"h":0.0403,"l":0.0389,"c":0.0391},{"d":2820,"o":0.0391,"h":0.0393,"l":0.0384,"c":0.0386},{"d":2824,"o":0.0398,"h":0.0421,"l":0.0396,"c":0.0419},{"d":2832,"o":0.0409,"h":0.0411,"l":0.0398,"c":0.04},{"d":2840,"o":0.0394,"h":0.0396,"l":0.0386,"c":0.0388},{"d":2850,"o":0.0388,"h":0.04,"l":0.0386,"c":0.0398},{"d":2856,"o":0.0377,"h":0.0379,"l":0.0364,"c":0.0366},{"d":2864,"o":0.0362,"h":0.0364,"l":0.0346,"c":0.0348},{"d":2870,"o":0.0363,"h":0.0411,"l":0.0361,"c":0.0395},{"d":2878,"o":0.0352,"h":0.0354,"l":0.0339,"c":0.0341},{"d":2884,"o":0.0352,"h":0.0354,"l":0.0319,"c":0.0335},{"d":2890,"o":0.0348,"h":0.0389,"l":0.0346,"c":0.0386},{"d":2898,"o":0.0373,"h":0.0406,"l":0.0371,"c":0.0403},{"d":2906,"o":0.0387,"h":0.0389,"l":0.0371,"c":0.0373},{"d":2912,"o":0.0362,"h":0.0364,"l":0.0333,"c":0.0343},{"d":2920,"o":0.0348,"h":0.0364,"l":0.0346,"c":0.0362},{"d":2928,"o":0.0352,"h":0.0373,"l":0.035,"c":0.0371},{"d":2936,"o":0.0344,"h":0.0346,"l":0.0325,"c":0.0327},{"d":2942,"o":0.0323,"h":0.0325,"l":0.03,"c":0.0302},{"d":2950,"o":0.0309,"h":0.0325,"l":0.0307,"c":0.0323},{"d":2958,"o":0.0291,"h":0.0293,"l":0.0236,"c":0.0272},{"d":2964,"o":0.027,"h":0.0282,"l":0.0268,"c":0.028},{"d":2972,"o":0.0271,"h":0.0282,"l":0.0269,"c":0.028},{"d":2978,"o":0.0273,"h":0.0296,"l":0.0271,"c":0.0294},{"d":2986,"o":0.0266,"h":0.0268,"l":0.0246,"c":0.0248},{"d":2992,"o":0.0245,"h":0.0261,"l":0.0243,"c":0.0259},{"d":2995,"o":0.0238,"h":0.0239,"l":0.0228,"c":0.02283}
]
},
"encoding":{
"x":{"field":"d","type":"quantitative","title":null,"scale":{"domain":[-52,3552],"nice":false,"zero":false},
"axis":{"orient":"bottom","values":[0,181,365,546,730,911,1095,1277,1461,1642,1826,2007,2191,2372,2556,2738,2922,3103,3287],"labelExpr":"indexof([181,546,911,1277,1642,2007,2372,2738,3103],datum.value)>=0?'7月':''+(2017+round(datum.value/365.25))","domain":false,"ticks":false,"grid":false,"tickSize":0,"labelPadding":-8,"labelBaseline":"middle","labelFont":"Noto Sans CJK SC","labelFontSize":12,"labelFontWeight":"bold","labelColor":"#b2b5be","labelOverlap":false,"labelFlush":false,"labelBound":false}},
"y":{"field":"v","type":"quantitative","title":null,"scale":{"domain":[-0.01213,0.17413],"nice":false,"zero":false},
"axis":{"orient":"right","values":[0,0.01,0.02,0.03,0.04,0.05,0.06,0.07,0.08,0.09,0.1,0.11,0.12,0.13,0.14,0.15,0.16],"format":".5f","labelExpr":"datum.value==0?'−0.00000':datum.label","domain":false,"ticks":false,"grid":false,"tickSize":0,"labelPadding":-53,"labelAlign":"left","labelFont":"Roboto","labelFontSize":11.5,"labelColor":"#b2b5be","labelOverlap":false,"labelFlush":false,"labelBound":false}}
},
"layer":[
{"data":{"name":"bands"},"mark":{"type":"rect","color":"#fdfdfd"},"encoding":{"x2":{"field":"d2"},"y2":{"field":"v2"}}},
{"data":{"name":"edge"},"mark":{"type":"rect","color":"#eeeeee"},"encoding":{"x2":{"field":"d2"},"y2":{"field":"v2"}}},
{"data":{"name":"range"},"mark":{"type":"rect","color":"#50535e"},"encoding":{"x2":{"field":"d2"},"y2":{"field":"v2"}}},
{"data":{"name":"rangeEnds"},"mark":{"type":"rule","color":"#8a8d96","strokeWidth":1},"encoding":{"y2":{"field":"v2"}}},
{"data":{"name":"rangeMid"},"mark":{"type":"rule","color":"#a0a3ab","strokeWidth":1,"strokeDash":[4,2]},"encoding":{"x2":{"field":"d2"}}},
{"data":{"name":"rangeArrow"},"mark":{"type":"line","color":"#a0a3ab","strokeWidth":1}},
{"data":{"name":"bars"},"mark":{"type":"line","color":"#4d94f0","strokeWidth":1},"encoding":{"y":{"field":"c","type":"quantitative","axis":null}}},
{"data":{"name":"bars"},"mark":{"type":"rule","color":"#ffffff","strokeWidth":1.4},"encoding":{"y":{"field":"l","type":"quantitative","axis":null},"y2":{"field":"h"}}},
{"data":{"name":"bars"},"mark":{"type":"rule","strokeWidth":1.2},"encoding":{"y":{"field":"o","type":"quantitative","axis":null},"y2":{"field":"c"},"color":{"condition":{"test":"datum.c>=datum.o","value":"#ffe866"},"value":"#3f8cf2"}}},
{"data":{"name":"cyan"},"mark":{"type":"rule","color":"#00bcd4","strokeWidth":1.3},"encoding":{"x2":{"field":"d2"}}},
{"data":{"name":"pink"},"mark":{"type":"rule","color":"#f07fb4","strokeWidth":1.3},"encoding":{"x2":{"field":"d2"}}},
{"data":{"name":"last"},"mark":{"type":"rule","color":"#2962ff","strokeWidth":1,"strokeDash":[1,3]},"encoding":{"x2":{"field":"d2"}}},
{"data":{"name":"arc"},"mark":{"type":"line","color":"#ff9800","strokeWidth":4.5,"strokeCap":"round","interpolate":"monotone"}},
{"data":{"name":"note"},"mark":{"type":"rect","color":"#787b86","opacity":0.9,"cornerRadius":2},"encoding":{"x2":{"field":"d2"},"y2":{"field":"v2"}}},
{"data":{"name":"noteText"},"mark":{"type":"text","color":"#ffffff","font":"Noto Sans CJK SC","fontSize":11.5,"align":"center","baseline":"middle"},"encoding":{"text":{"field":"label"}}},
{"data":{"name":"boxCyan"},"mark":{"type":"rect","color":"#00bcd4"},"encoding":{"x2":{"field":"d2"},"y2":{"field":"v2"}}},
{"data":{"name":"darkTags"},"mark":{"type":"text","color":"#131722","font":"Roboto","fontSize":11.5,"align":"left","baseline":"middle"},"encoding":{"text":{"field":"label"}}},
{"data":{"name":"boxPink"},"mark":{"type":"rect","color":"#f07fb4"},"encoding":{"x2":{"field":"d2"},"y2":{"field":"v2"}}},
{"data":{"name":"pinkTag"},"mark":{"type":"text","color":"#131722","font":"Roboto","fontSize":11.5,"align":"left","baseline":"middle"},"encoding":{"text":{"field":"label"}}},
{"data":{"name":"boxBlue"},"mark":{"type":"rect","color":"#2962ff"},"encoding":{"x2":{"field":"d2"},"y2":{"field":"v2"}}},
{"data":{"name":"blueTags"},"mark":{"type":"text","color":"#ffffff","font":"Roboto","fontSize":11.5,"align":"left","baseline":"middle"},"encoding":{"text":{"field":"label"}}},
{"data":{"name":"coinEth"},"mark":{"type":"point","filled":true,"opacity":1,"size":110,"color":"#4a6f8f"}},
{"data":{"name":"coinBtc"},"mark":{"type":"point","filled":true,"opacity":1,"size":110,"color":"#f7931a"}},
{"data":{"name":"head"},"mark":{"type":"text","color":"#c8cbd3","font":"Noto Sans, Noto Sans CJK SC","fontSize":14.8,"align":"left","baseline":"middle"},"encoding":{"text":{"field":"label"}}},
{"data":{"name":"status"},"mark":{"type":"point","opacity":1,"size":190,"color":"#2a3a50","strokeWidth":3,"strokeDash":[1,1]}},
{"data":{"name":"status"},"mark":{"type":"point","filled":true,"opacity":1,"size":55,"color":"#2e75a8"}},
{"data":{"name":"headBlue"},"mark":{"type":"text","color":"#4a90e2","font":"Noto Sans","fontSize":12,"align":"left","baseline":"middle"},"encoding":{"text":{"field":"label"}}},
{"data":{"name":"headVol"},"mark":{"type":"text","color":"#c8cbd3","font":"Noto Sans","fontSize":12,"align":"left","baseline":"middle"},"encoding":{"text":{"field":"label"}}},
{"data":{"name":"tvLogo"},"mark":{"type":"point","filled":true,"opacity":1,"size":1024,"color":"#d1d4dc","shape":"M-1 -.5L-.3 -.5L-.3 .5L-.62 .5L-.62 -.2L-1 -.2ZM-.15 -.35a.15 .15 0 1 0 .3 0a.15 .15 0 1 0 -.3 0ZM.35 -.5L1 -.5L.55 .5L.1 .5Z"}},
{"data":{"name":"btcBox"},"mark":{"type":"rect","color":"#0e0f12","stroke":"#3a3d45","strokeWidth":1,"cornerRadius":3},"encoding":{"x2":{"field":"d2"},"y2":{"field":"v2"}}},
{"data":{"name":"btcText"},"mark":{"type":"text","color":"#d1d4dc","font":"Roboto","fontSize":12,"align":"left","baseline":"middle"},"encoding":{"text":{"field":"label"}}},
{"data":{"name":"chevron"},"mark":{"type":"point","opacity":1,"size":25,"color":"#d1d4dc","strokeWidth":1,"shape":"M-1 -.5L0 .5L1 -.5"}},
{"data":{"name":"gear"},"mark":{"type":"point","opacity":1,"size":210,"color":"#b2b5be","strokeWidth":1.2,"shape":"M-.5 -.87L.5 -.87L1 0L.5 .87L-.5 .87L-1 0Z"}},
{"data":{"name":"gear"},"mark":{"type":"point","opacity":1,"size":22,"color":"#b2b5be","strokeWidth":1.2}},
{"data":{"name":"mark"},"mark":{"type":"point","opacity":1,"size":520,"color":"#c8c8c8","strokeWidth":1.5,"shape":"diamond"}},
{"data":{"name":"mark"},"mark":{"type":"point","opacity":1,"size":90,"color":"#c8c8c8","strokeWidth":1.5,"shape":"diamond"}},
{"data":{"name":"markText"},"mark":{"type":"text","color":"#b4b4b4","font":"Noto Sans CJK SC","fontSize":21,"align":"left","baseline":"middle","dx":1,"dy":1},"encoding":{"text":{"field":"label"}}},
{"data":{"name":"markText"},"mark":{"type":"text","color":"#f4f4f4","font":"Noto Sans CJK SC","fontSize":21,"align":"left","baseline":"middle"},"encoding":{"text":{"field":"label"}}}
]
}
